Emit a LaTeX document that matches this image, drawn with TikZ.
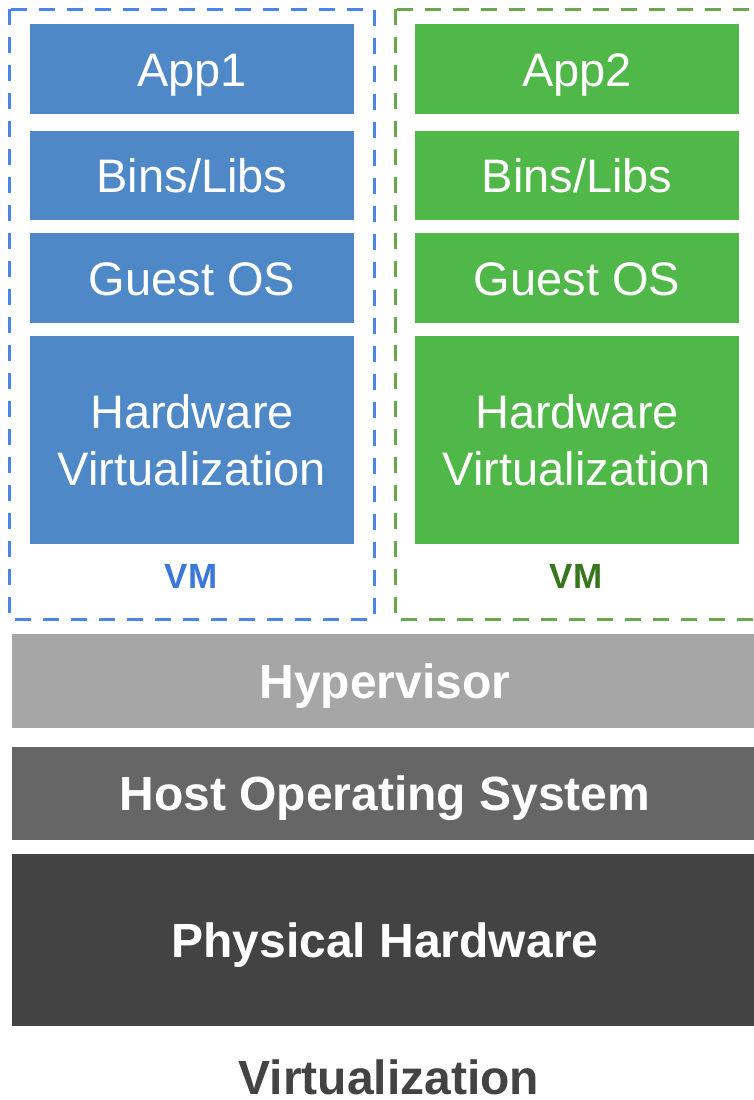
\documentclass[tikz,border=0pt]{standalone}
\usepackage{fontspec}
\setmainfont{Liberation Sans}
\definecolor{vmblue}{HTML}{4E88C7}
\definecolor{vmgreen}{HTML}{50B848}
\definecolor{dashblue}{HTML}{4A86E8}
\definecolor{dashgreen}{HTML}{6AA84F}
\definecolor{lblblue}{HTML}{3C78D8}
\definecolor{lblgreen}{HTML}{38761D}
\definecolor{hypgray}{HTML}{A6A6A6}
\definecolor{hostgray}{HTML}{666666}
\definecolor{physgray}{HTML}{434343}
\tikzset{
  blk/.style={rectangle, draw=none, minimum width=324pt, inner sep=0pt,
    text=white, font=\fontsize{47}{57}\selectfont, text height=34pt, text depth=0pt},
  bar/.style={rectangle, draw=none, minimum width=746pt, inner sep=0pt,
    text=white, font=\fontsize{48}{57}\selectfont\bfseries, text height=34pt, text depth=0pt},
  frame/.style={line width=3pt, dash pattern=on 16pt off 12pt},
  txt/.style={anchor=base, inner sep=0pt, text=white, font=\fontsize{47}{57}\selectfont},
  vmlbl/.style={anchor=base, inner sep=0pt, font=\fontsize{35}{40}\selectfont\bfseries},
}
\begin{document}
\begin{tikzpicture}[x=1pt,y=-1pt]
\useasboundingbox (0,0) rectangle (753,1100);

% VM frames
\draw[frame, dashblue] (9,9) rectangle (374,619);
\draw[frame, dashgreen] (395,9) rectangle (760,619);

% left VM stack
\node[blk, fill=vmblue, minimum height=90pt] (app1) at (192,69) {App1};
\node[blk, fill=vmblue, minimum height=89pt] (lib1) at (192,175.5) {Bins/Libs};
\node[blk, fill=vmblue, minimum height=90pt] (os1) at (192,278) {Guest OS};
\node[blk, fill=vmblue, minimum height=208pt] (hw1) at (192,440) {};
\node[txt] (hw1a) at (192,428.5) {Hardware};
\node[txt] (hw1b) at (192,485.5) {Virtualization};
\node[vmlbl, text=lblblue] (vm1) at (191,588) {VM};

% right VM stack
\node[blk, fill=vmgreen, minimum height=90pt] (app2) at (577,69) {App2};
\node[blk, fill=vmgreen, minimum height=89pt] (lib2) at (577,175.5) {Bins/Libs};
\node[blk, fill=vmgreen, minimum height=90pt] (os2) at (577,278) {Guest OS};
\node[blk, fill=vmgreen, minimum height=208pt] (hw2) at (577,440) {};
\node[txt] (hw2a) at (577,428.5) {Hardware};
\node[txt] (hw2b) at (577,485.5) {Virtualization};
\node[vmlbl, text=lblgreen] (vm2) at (576,588) {VM};

% shared layers
\node[bar, fill=hypgray, minimum height=94pt] (hyp) at (385,681) {Hypervisor};
\node[bar, fill=hostgray, minimum height=93pt] (host) at (385,793.5) {Host Operating System};
\node[bar, fill=physgray, minimum height=172pt] (phys) at (385,940) {Physical Hardware};

% caption
\node[anchor=base, inner sep=0pt, text=physgray, font=\fontsize{48}{57}\selectfont\bfseries] (cap) at (389,1094) {Virtualization};
\end{tikzpicture}
\end{document}
